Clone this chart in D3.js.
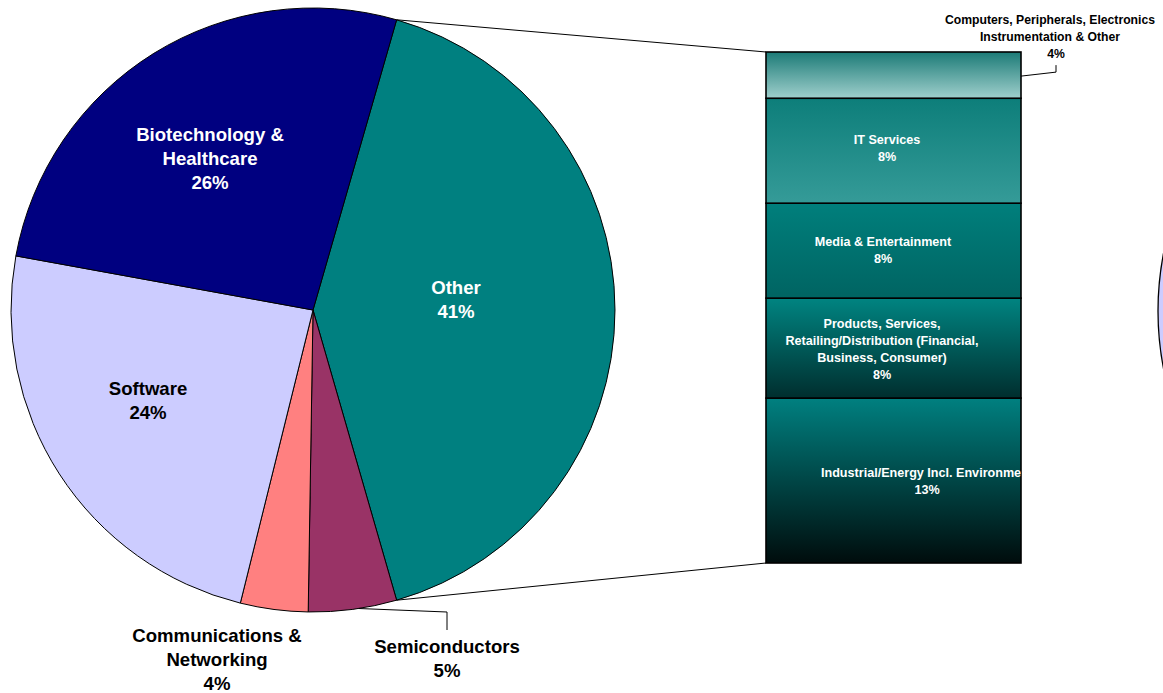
<!DOCTYPE html>
<html>
<head>
<meta charset="utf-8">
<script src="https://cdn.jsdelivr.net/npm/d3@7/dist/d3.min.js"></script>
<style>
  html, body { margin: 0; padding: 0; background: #fff; }
  svg { display: block; font-family: "Liberation Sans", Arial, sans-serif; font-weight: bold; }
</style>
</head>
<body>
<svg id="chart" width="1163" height="693"></svg>
<script>
// Investment by industry sector (share of total, %)
const pieSectors = ["Other", "Semiconductors", "Communications & Networking", "Software", "Biotechnology & Healthcare"];
const pieValues  = [40.9, 4.7, 3.6, 23.9, 26.49];
const pieLabels  = [["Other", "41%"], ["Semiconductors", "5%"], ["Communications &", "Networking", "4%"], ["Software", "24%"], ["Biotechnology &", "Healthcare", "26%"]];
const pieColors  = ["#008080", "#993366", "#FF8080", "#CCCCFF", "#000080"];

// Breakdown of "Other", stacked from the bottom up
const otherSectors = ["Industrial/Energy Incl. Environment", "Products, Services, Retailing/Distribution (Financial, Business, Consumer)", "Media & Entertainment", "IT Services", "Computers, Peripherals, Electronics Instrumentation & Other"];
const otherValues  = [13.2, 8.0, 7.6, 8.4, 3.7];
const otherLabels  = [["Industrial/Energy Incl. Environment", "13%"], ["Products, Services,", "Retailing/Distribution (Financial,", "Business, Consumer)", "8%"], ["Media & Entertainment", "8%"], ["IT Services", "8%"], ["Computers, Peripherals, Electronics", "Instrumentation & Other", "4%"]];
const otherGradients = [["#008080", "#000c0c"], ["#008481", "#002e2e"], ["#007f7c", "#006462"], ["#0d7e7a", "#359b98"], ["#1c7b77", "#9fcfcc"]];

const svg = d3.select("#chart");
const defs = svg.append("defs");

// ---- pie ----
const cx = 313, cy = 310, R = 302;
const otherFrac = pieValues[0] / d3.sum(pieValues);
const pie = d3.pie().sort(null).value(d => d)
  .startAngle(Math.PI / 2 - otherFrac * Math.PI)
  .endAngle(Math.PI / 2 - otherFrac * Math.PI + 2 * Math.PI);
const arcs = pie(pieValues);
const arc = d3.arc().innerRadius(0).outerRadius(R);

// neighbouring pie partly visible at the right edge
const gNext = svg.append("g").attr("transform", `translate(1460,311)`);
gNext.append("path")
  .attr("d", d3.arc().innerRadius(0).outerRadius(R)({ startAngle: 0, endAngle: 2 * Math.PI }))
  .attr("fill", "#CCCCFF").attr("stroke", "#000").attr("stroke-width", 1.3);

const gPie = svg.append("g").attr("transform", `translate(${cx},${cy})`);
gPie.selectAll("path.slice").data(arcs).join("path")
  .attr("class", "slice")
  .attr("d", arc)
  .attr("fill", (d, i) => pieColors[i])
  .attr("stroke", "#000").attr("stroke-width", 1);

const polar = (a, r) => [cx + r * Math.sin(a), cy - r * Math.cos(a)];

// ---- bar of "Other" ----
const barX0 = 766, barX1 = 1021;
const y = d3.scaleLinear().domain([0, d3.sum(otherValues)]).range([563, 52]);
const stacked = [];
let acc = 0;
otherValues.forEach((v, i) => { stacked.push({ i, y0: acc, y1: acc + v }); acc += v; });

otherGradients.forEach((g, i) => {
  const lg = defs.append("linearGradient").attr("id", "grad" + i)
    .attr("x1", 0).attr("y1", 0).attr("x2", 0).attr("y2", 1);
  lg.append("stop").attr("offset", "0%").attr("stop-color", g[0]);
  lg.append("stop").attr("offset", "100%").attr("stop-color", g[1]);
});
defs.append("clipPath").attr("id", "barClip")
  .append("rect").attr("x", barX0).attr("y", y(acc)).attr("width", barX1 - barX0).attr("height", y(0) - y(acc));

// connector lines from the "Other" slice to the bar
const oArc = arcs[0];
const pStart = polar(oArc.startAngle, R), pEnd = polar(oArc.endAngle, R);
svg.append("line").attr("x1", pStart[0]).attr("y1", pStart[1]).attr("x2", barX0).attr("y2", y(acc))
  .attr("stroke", "#000").attr("stroke-width", 1);
svg.append("line").attr("x1", pEnd[0]).attr("y1", pEnd[1]).attr("x2", barX0).attr("y2", y(0))
  .attr("stroke", "#000").attr("stroke-width", 1);

const gBar = svg.append("g");
gBar.selectAll("rect").data(stacked).join("rect")
  .attr("x", barX0).attr("width", barX1 - barX0)
  .attr("y", d => y(d.y1)).attr("height", d => y(d.y0) - y(d.y1))
  .attr("fill", d => `url(#grad${d.i})`)
  .attr("stroke", "#000").attr("stroke-width", 1.6);

// labels inside bar segments (white, clipped to the bar)
const barLabelPos = [[927, 473], [882, 324], [883, 242], [887, 140]];
const lh = 17;
const gBarText = svg.append("g").attr("clip-path", "url(#barClip)");
barLabelPos.forEach((p, i) => {
  const t = gBarText.append("text").attr("text-anchor", "middle")
    .attr("font-size", 12.6).attr("fill", "#fff");
  otherLabels[i].forEach((ln, k) => {
    t.append("tspan").attr("x", p[0]).attr("y", p[1] + k * lh).attr("dy", "0.35em").text(ln);
  });
});

// outside label for the small top segment
const topSeg = stacked[4];
const topMidY = (y(topSeg.y0) + y(topSeg.y1)) / 2;
svg.append("polyline")
  .attr("points", [[barX1, topMidY + 1], [1056, topMidY - 3], [1056, topMidY - 10]].map(p => p.join(",")).join(" "))
  .attr("fill", "none").attr("stroke", "#000").attr("stroke-width", 1);
const tTop = svg.append("text").attr("text-anchor", "middle").attr("font-size", 12.2).attr("fill", "#000");
otherLabels[4].forEach((ln, k) => {
  tTop.append("tspan").attr("x", k === 2 ? 1056 : 1050).attr("y", 20 + k * 17).attr("dy", "0.35em").text(ln);
});

// ---- pie labels ----
const pieLabelPos = [[456, 287, "#fff"], [447, 646, "#000"], [217, 635, "#000"], [148, 388, "#000"], [210, 134, "#fff"]];
pieLabelPos.forEach((p, i) => {
  const t = svg.append("text").attr("text-anchor", "middle")
    .attr("font-size", 18.6).attr("fill", p[2]);
  pieLabels[i].forEach((ln, k) => {
    t.append("tspan").attr("x", p[0]).attr("y", p[1] + k * 24).attr("dy", "0.35em").text(ln);
  });
});

// leader line for the Semiconductors label
const sArc = arcs[1];
const sMid = (sArc.startAngle + sArc.endAngle) / 2;
const sp = polar(sMid - 0.02, R);
svg.append("polyline")
  .attr("points", [sp, [447, 612], [447, 630]].map(p => p.join(",")).join(" "))
  .attr("fill", "none").attr("stroke", "#000").attr("stroke-width", 1);
</script>
</body>
</html>
